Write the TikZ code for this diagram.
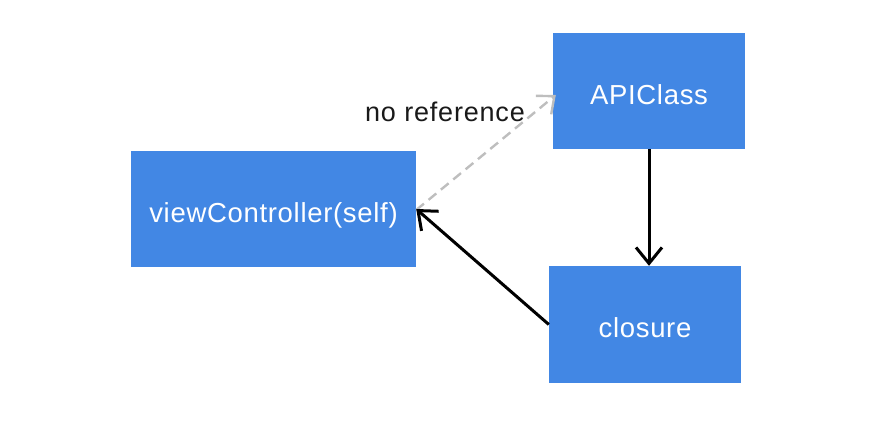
\documentclass[tikz,border=0pt]{standalone}
\usepackage{fontspec}
\setmainfont{Liberation Sans}
\usetikzlibrary{arrows.meta}
\definecolor{boxblue}{RGB}{66,135,228}
\definecolor{dashgray}{RGB}{190,190,190}
\tikzset{
  box/.style={fill=boxblue, draw=none, inner sep=0pt, text=white, text height=26pt, text depth=0pt,
    font=\fontsize{27.5}{32}\selectfont\addfontfeature{LetterSpace=2.5}},
  conn/.style={line width=3pt, draw=black, -{Straight Barb[length=16pt,width=26pt,line width=3pt]}},
  ref/.style={line width=2.4pt, draw=dashgray, dash pattern=on 10pt off 6pt, -{Straight Barb[length=14pt,width=24pt,line width=2.4pt]}},
  lbl/.style={font=\fontsize{27}{30}\selectfont\addfontfeature{LetterSpace=3}, text=black!90, inner sep=0pt}
}
\begin{document}
\begin{tikzpicture}[x=1pt,y=-1pt]
\useasboundingbox (0,0) rectangle (882,434);
\node[box, minimum width=285pt, minimum height=116pt] (vc) at (273.5,209) {viewController(self)};
\node[box, minimum width=192pt, minimum height=116pt] (api) at (649,91) {APIClass};
\node[box, minimum width=192pt, minimum height=117pt] (cl) at (645,324.5) {closure};
\node[lbl] (nr) at (445,112) {no reference};
\draw[ref] ([yshift=-1pt]vc.east) -- ([yshift=-4pt,xshift=3pt]api.west);
\draw[conn] (api.south) -- (api.south |- cl.north);
\draw[conn] (cl.west) -- (vc.east);
\end{tikzpicture}
\end{document}
